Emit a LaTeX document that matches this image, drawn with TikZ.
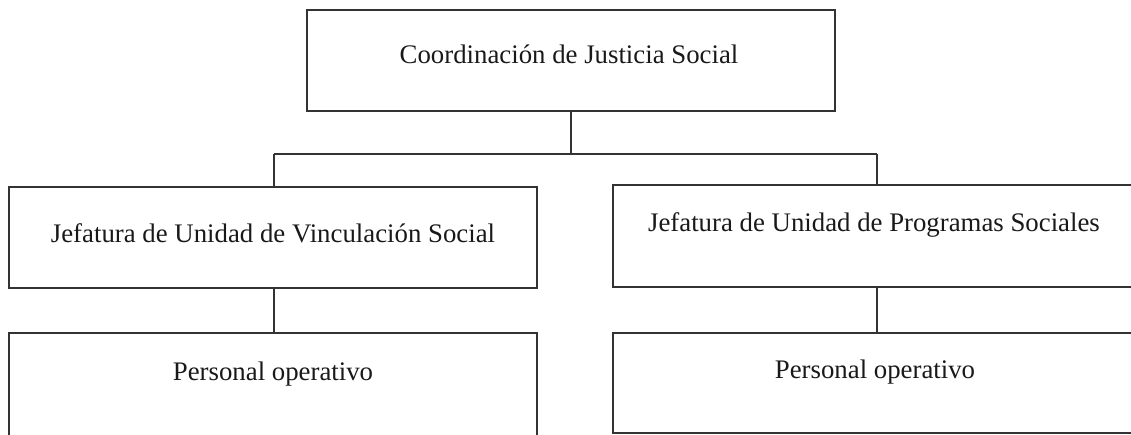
\documentclass[tikz,border=0pt]{standalone}
\usepackage{fontspec}
\setmainfont{Liberation Serif}
\begin{document}
\begin{tikzpicture}[x=1pt,y=-1pt,
  box/.style={draw=black!80,line width=1.4pt,rectangle,inner sep=0pt},
  lbl/.style={anchor=base,inner sep=0pt,font=\fontsize{26.8}{32}\selectfont,text=black!90},
  conn/.style={draw=black!80,line width=1.4pt}]
\useasboundingbox (0,0) rectangle (1131,434);
\clip (0,0) rectangle (1131,434);
% boxes
\node[box,minimum width=528pt,minimum height=101pt] (top) at (571,60.5) {};
\node[box,minimum width=528pt,minimum height=101pt] (left) at (273,237.5) {};
\node[box,minimum width=522pt,minimum height=102pt] (right) at (874,236) {};
\node[box,minimum width=528pt,minimum height=103pt] (bleft) at (273,384.5) {};
\node[box,minimum width=522pt,minimum height=100pt] (bright) at (874,383) {};
% texts
\node[lbl] (ttop) at (569,63) {Coordinación de Justicia Social};
\node[lbl] (tleft) at (273,242) {Jefatura de Unidad de Vinculación Social};
\node[lbl] (tright) at (874,231) {Jefatura de Unidad de Programas Sociales};
\node[lbl] (tbleft) at (273,380) {Personal operativo};
\node[lbl] (tbright) at (875,378) {Personal operativo};
% connectors
\coordinate (j) at (571,154);
\coordinate (jl) at (274,154);
\coordinate (jr) at (877,154);
\draw[conn] (top.south) -- (j);
\draw[conn] (jl) -- (jr);
\draw[conn] (jl) -- (jl |- left.north);
\draw[conn] (jr) -- (jr |- right.north);
\draw[conn] (jl |- left.south) -- (jl |- bleft.north);
\draw[conn] (jr |- right.south) -- (jr |- bright.north);
\end{tikzpicture}
\end{document}
